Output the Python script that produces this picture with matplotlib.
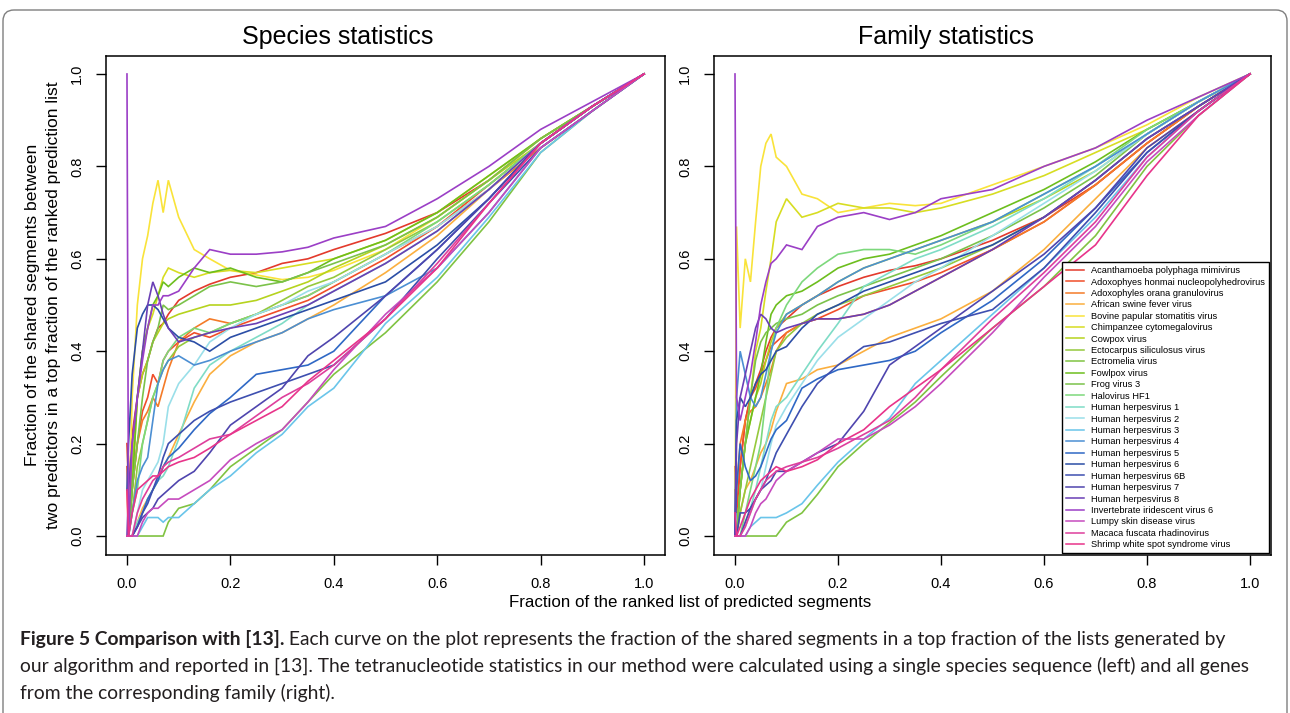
import matplotlib
matplotlib.use("Agg")
import matplotlib.pyplot as plt
from matplotlib.patches import FancyBboxPatch
from matplotlib.transforms import IdentityTransform
from matplotlib.lines import Line2D

plt.rcParams['font.family'] = ['Liberation Sans', 'DejaVu Sans']

# ---------------- data ----------------
X = [0, .003, .01, .02, .03, .04, .05, .06, .07, .08, .10, .13, .16, .20, .25, .30, .35, .40, .50, .60, .70, .80, .90, 1.0]

names = ["Acanthamoeba polyphaga mimivirus", "Adoxophyes honmai nucleopolyhedrovirus",
         "Adoxophyles orana granulovirus", "African swine fever virus",
         "Bovine papular stomatitis virus", "Chimpanzee cytomegalovirus", "Cowpox virus",
         "Ectocarpus siliculosus virus", "Ectromelia virus", "Fowlpox virus", "Frog virus 3",
         "Halovirus HF1", "Human herpesvirus 1", "Human herpesvirus 2", "Human herpesvirus 3",
         "Human herpesvirus 4", "Human herpesvirus 5", "Human herpesvirus 6",
         "Human herpesvirus 6B", "Human herpesvirus 7", "Human herpesvirus 8",
         "Invertebrate iridescent virus 6", "Lumpy skin disease virus",
         "Macaca fuscata rhadinovirus", "Shrimp white spot syndrome virus"]

colors = ["#E33A2C", "#F04E2A", "#F47B28", "#FBAF3F", "#F9E33A", "#D7DD22", "#B6D31E",
          "#95C93D", "#80C342", "#6DBE1E", "#7BC24A", "#7DD87C", "#7FDCC6", "#9ADFE9",
          "#6AC5EA", "#4C8FD3", "#2F68C5", "#2B4EA6", "#3E4FB0", "#4F45AE", "#6A3FB5",
          "#9B3FC6", "#C64BBE", "#DE3F9C", "#E8348A"]

# Species statistics (left)
S01 = [0.20,0.10,0.22,0.30,0.35,0.38,0.42,0.45,0.46,0.48,0.51,0.53,0.545,0.56,0.57,0.59,0.60,0.62,0.655,0.70,0.77,0.86,0.93,1.0]
S02 = [0.15,0.05,0.10,0.20,0.27,0.30,0.35,0.33,0.38,0.40,0.42,0.44,0.43,0.45,0.47,0.49,0.51,0.54,0.60,0.67,0.76,0.85,0.93,1.0]
S03 = [0.10,0.00,0.10,0.20,0.25,0.27,0.30,0.28,0.32,0.36,0.42,0.45,0.47,0.46,0.48,0.50,0.52,0.55,0.61,0.67,0.75,0.84,0.92,1.0]
S04 = [0,0,0,0.03,0.06,0.08,0.10,0.12,0.15,0.17,0.22,0.29,0.35,0.39,0.42,0.44,0.47,0.50,0.57,0.65,0.75,0.85,0.93,1.0]
S05 = [0,0,0.30,0.50,0.60,0.65,0.72,0.77,0.70,0.77,0.69,0.62,0.60,0.575,0.565,0.555,0.56,0.575,0.62,0.69,0.77,0.86,0.93,1.0]
S06 = [0,0,0.10,0.30,0.40,0.45,0.48,0.52,0.56,0.58,0.57,0.56,0.57,0.575,0.57,0.58,0.59,0.60,0.64,0.70,0.78,0.86,0.93,1.0]
S07 = [0,0,0.15,0.30,0.35,0.38,0.42,0.44,0.46,0.47,0.48,0.49,0.50,0.50,0.51,0.53,0.55,0.58,0.63,0.69,0.77,0.85,0.93,1.0]
S08 = [0,0,0.05,0.15,0.20,0.25,0.30,0.33,0.36,0.38,0.41,0.43,0.44,0.46,0.48,0.51,0.54,0.56,0.62,0.68,0.76,0.85,0.93,1.0]
S09 = [0,0,0,0,0,0,0,0,0,0.03,0.06,0.07,0.10,0.15,0.19,0.23,0.29,0.35,0.44,0.55,0.68,0.83,0.92,1.0]
S10 = [0,0,0.10,0.30,0.40,0.45,0.50,0.52,0.55,0.54,0.56,0.58,0.57,0.58,0.56,0.55,0.57,0.60,0.64,0.70,0.78,0.86,0.93,1.0]
S11 = [0,0,0.10,0.20,0.30,0.38,0.42,0.45,0.50,0.49,0.50,0.52,0.54,0.55,0.54,0.55,0.57,0.59,0.63,0.69,0.77,0.86,0.93,1.0]
S12 = [0,0,0.05,0.10,0.20,0.25,0.30,0.33,0.38,0.40,0.43,0.45,0.44,0.46,0.48,0.50,0.52,0.55,0.61,0.68,0.76,0.85,0.93,1.0]
S13 = [0,0,0,0.03,0.05,0.08,0.10,0.12,0.13,0.15,0.21,0.32,0.37,0.40,0.43,0.46,0.50,0.53,0.59,0.66,0.75,0.85,0.93,1.0]
S14 = [0,0,0,0.05,0.10,0.12,0.14,0.16,0.20,0.28,0.33,0.37,0.42,0.45,0.48,0.50,0.53,0.55,0.61,0.67,0.75,0.85,0.93,1.0]
S15 = [0,0,0,0,0.02,0.04,0.04,0.04,0.03,0.04,0.04,0.07,0.10,0.13,0.18,0.22,0.28,0.32,0.46,0.56,0.69,0.83,0.92,1.0]
S16 = [0,0,0.05,0.12,0.15,0.17,0.25,0.33,0.36,0.38,0.39,0.37,0.38,0.40,0.42,0.44,0.47,0.49,0.52,0.58,0.70,0.84,0.92,1.0]
S17 = [0,0,0,0.02,0.05,0.08,0.10,0.12,0.15,0.17,0.19,0.23,0.265,0.30,0.35,0.36,0.37,0.40,0.52,0.62,0.73,0.85,0.93,1.0]
S18 = [0.10,0.20,0.35,0.45,0.48,0.50,0.50,0.49,0.47,0.45,0.43,0.42,0.40,0.43,0.45,0.47,0.49,0.51,0.55,0.63,0.73,0.85,0.93,1.0]
S19 = [0,0,0,0.02,0.05,0.07,0.10,0.13,0.17,0.20,0.22,0.25,0.27,0.29,0.31,0.33,0.35,0.37,0.47,0.60,0.72,0.84,0.92,1.0]
S20 = [0,0,0,0.02,0.04,0.05,0.06,0.08,0.09,0.10,0.12,0.14,0.18,0.24,0.28,0.32,0.39,0.43,0.52,0.62,0.73,0.85,0.93,1.0]
S21 = [0,0.10,0.20,0.30,0.40,0.50,0.55,0.52,0.48,0.45,0.42,0.43,0.44,0.45,0.46,0.48,0.50,0.53,0.59,0.66,0.75,0.85,0.93,1.0]
S22 = [1.0,0.0,0.20,0.30,0.38,0.45,0.50,0.50,0.52,0.52,0.53,0.58,0.62,0.61,0.61,0.615,0.625,0.645,0.67,0.73,0.80,0.88,0.94,1.0]
S23 = [0,0,0,0,0.03,0.05,0.06,0.06,0.07,0.08,0.08,0.10,0.12,0.165,0.20,0.23,0.29,0.36,0.48,0.58,0.70,0.84,0.92,1.0]
S24 = [0,0,0,0.05,0.08,0.10,0.12,0.13,0.15,0.16,0.17,0.19,0.21,0.22,0.26,0.30,0.33,0.37,0.47,0.59,0.72,0.85,0.93,1.0]
S25 = [0.10,0,0.05,0.10,0.11,0.12,0.13,0.13,0.14,0.15,0.16,0.17,0.19,0.22,0.25,0.28,0.335,0.38,0.47,0.58,0.72,0.85,0.93,1.0]

# Family statistics (right)
F01 = [0.15,0.05,0.15,0.25,0.30,0.33,0.36,0.40,0.43,0.45,0.47,0.50,0.52,0.54,0.56,0.575,0.585,0.60,0.64,0.69,0.76,0.85,0.93,1.0]
F02 = [0.10,0.05,0.15,0.25,0.30,0.32,0.35,0.38,0.41,0.42,0.44,0.46,0.47,0.49,0.52,0.535,0.55,0.57,0.62,0.68,0.76,0.85,0.93,1.0]
F03 = [0.10,0.10,0.20,0.25,0.27,0.28,0.30,0.33,0.36,0.40,0.44,0.46,0.47,0.47,0.48,0.50,0.53,0.56,0.62,0.68,0.76,0.85,0.93,1.0]
F04 = [0,0,0.05,0.10,0.12,0.15,0.18,0.20,0.23,0.27,0.33,0.34,0.36,0.37,0.40,0.43,0.45,0.47,0.53,0.62,0.73,0.84,0.92,1.0]
F05 = [0,0.67,0.45,0.60,0.55,0.68,0.80,0.85,0.87,0.82,0.80,0.74,0.73,0.70,0.71,0.72,0.715,0.72,0.76,0.80,0.84,0.89,0.95,1.0]
F06 = [0,0,0.10,0.20,0.30,0.40,0.45,0.53,0.60,0.68,0.73,0.69,0.70,0.72,0.71,0.71,0.70,0.71,0.74,0.78,0.83,0.88,0.94,1.0]
F07 = [0,0,0.10,0.20,0.25,0.30,0.33,0.38,0.42,0.45,0.48,0.50,0.52,0.55,0.58,0.60,0.62,0.64,0.68,0.73,0.79,0.87,0.94,1.0]
F08 = [0,0,0.05,0.10,0.15,0.20,0.25,0.30,0.35,0.40,0.43,0.46,0.48,0.50,0.52,0.54,0.56,0.58,0.63,0.69,0.77,0.86,0.93,1.0]
F09 = [0,0,0,0,0,0,0,0,0,0,0.03,0.05,0.09,0.15,0.20,0.245,0.29,0.345,0.45,0.54,0.65,0.80,0.91,1.0]
F10 = [0,0,0.10,0.20,0.25,0.30,0.35,0.42,0.48,0.50,0.52,0.53,0.55,0.58,0.60,0.61,0.63,0.65,0.70,0.75,0.81,0.88,0.94,1.0]
F11 = [0,0,0.10,0.20,0.30,0.38,0.42,0.44,0.45,0.46,0.47,0.48,0.50,0.52,0.54,0.56,0.58,0.60,0.65,0.71,0.78,0.87,0.94,1.0]
F12 = [0,0,0,0.05,0.10,0.15,0.20,0.30,0.40,0.45,0.50,0.55,0.58,0.61,0.62,0.62,0.61,0.63,0.68,0.74,0.80,0.88,0.94,1.0]
F13 = [0,0,0,0.03,0.06,0.10,0.15,0.20,0.25,0.28,0.30,0.35,0.40,0.46,0.54,0.57,0.60,0.62,0.67,0.73,0.80,0.87,0.94,1.0]
F14 = [0,0,0,0.02,0.05,0.08,0.10,0.15,0.20,0.24,0.28,0.33,0.38,0.43,0.47,0.51,0.55,0.58,0.65,0.72,0.79,0.87,0.94,1.0]
F15 = [0,0,0,0,0.02,0.03,0.04,0.04,0.04,0.04,0.05,0.07,0.11,0.16,0.21,0.255,0.33,0.38,0.48,0.58,0.69,0.82,0.92,1.0]
F16 = [0,0.30,0.40,0.35,0.30,0.28,0.30,0.35,0.40,0.44,0.48,0.50,0.52,0.55,0.58,0.60,0.62,0.64,0.68,0.74,0.80,0.87,0.94,1.0]
F17 = [0,0.10,0.20,0.15,0.12,0.13,0.15,0.18,0.21,0.23,0.25,0.32,0.34,0.36,0.37,0.38,0.40,0.44,0.51,0.60,0.71,0.83,0.92,1.0]
F18 = [0,0.25,0.30,0.28,0.30,0.33,0.35,0.36,0.38,0.40,0.41,0.45,0.48,0.50,0.53,0.55,0.57,0.59,0.63,0.69,0.77,0.86,0.93,1.0]
F19 = [0,0,0.05,0.05,0.06,0.08,0.10,0.12,0.15,0.18,0.22,0.28,0.33,0.37,0.41,0.42,0.44,0.46,0.49,0.58,0.70,0.83,0.92,1.0]
F20 = [0,0,0,0.03,0.06,0.08,0.10,0.11,0.12,0.14,0.14,0.16,0.18,0.20,0.27,0.37,0.41,0.45,0.53,0.61,0.71,0.84,0.92,1.0]
F21 = [0,0.20,0.30,0.35,0.40,0.45,0.48,0.47,0.45,0.44,0.45,0.46,0.47,0.47,0.48,0.50,0.53,0.56,0.62,0.69,0.77,0.86,0.93,1.0]
F22 = [1.0,0.30,0.25,0.30,0.35,0.42,0.50,0.55,0.59,0.60,0.63,0.62,0.67,0.69,0.70,0.685,0.70,0.73,0.75,0.80,0.84,0.90,0.95,1.0]
F23 = [0,0,0,0,0.02,0.05,0.07,0.08,0.10,0.12,0.14,0.16,0.18,0.21,0.21,0.24,0.28,0.33,0.44,0.56,0.67,0.81,0.91,1.0]
F24 = [0,0,0,0.02,0.05,0.08,0.10,0.12,0.13,0.14,0.15,0.16,0.17,0.19,0.22,0.25,0.30,0.36,0.47,0.57,0.68,0.82,0.92,1.0]
F25 = [0.05,0,0.02,0.05,0.08,0.10,0.12,0.13,0.14,0.15,0.14,0.15,0.165,0.20,0.23,0.28,0.32,0.36,0.45,0.54,0.63,0.78,0.91,1.0]

species = [S01,S02,S03,S04,S05,S06,S07,S08,S09,S10,S11,S12,S13,S14,S15,S16,S17,S18,S19,S20,S21,S22,S23,S24,S25]
family = [F01,F02,F03,F04,F05,F06,F07,F08,F09,F10,F11,F12,F13,F14,F15,F16,F17,F18,F19,F20,F21,F22,F23,F24,F25]

ticks = [0.0, 0.2, 0.4, 0.6, 0.8, 1.0]
tick_labels = ["0.0", "0.2", "0.4", "0.6", "0.8", "1.0"]

# ---------------- figure ----------------
W, H = 1290, 713
fig = plt.figure(figsize=(W / 100, H / 100), dpi=100)
fig.patch.set_facecolor("white")

def fx(px):
    return px / W

def fy(py):
    return 1 - py / H

ax_bottom = 554.5
ax_h = 499.0
axL = fig.add_axes([fx(106.3), fy(ax_bottom), 558.4 / W, ax_h / H])
axR = fig.add_axes([fx(714.4), fy(ax_bottom), 556.2 / W, ax_h / H])

for ax, data in ((axL, species), (axR, family)):
    for y, c in zip(data, colors):
        ax.plot(X, y, color=c, lw=1.2, solid_joinstyle="miter")
    ax.set_xlim(-0.04, 1.04)
    ax.set_ylim(-0.04, 1.04)
    ax.set_xticks(ticks)
    ax.set_xticklabels(tick_labels)
    ax.set_yticks(ticks)
    ax.set_yticklabels(tick_labels, rotation=90, va="center")
    ax.tick_params(direction="out", length=7.5, width=1.0, labelsize=10.5, pad=8.5, color="black")
    for s in ax.spines.values():
        s.set_linewidth(1.1)
        s.set_color("black")

handles = [Line2D([0], [0], color=c, lw=1.1) for c in colors]
leg = axR.legend(handles, names, loc="lower right", fontsize=6.7, frameon=True, fancybox=False,
                 edgecolor="black", framealpha=1, borderaxespad=0.12, labelspacing=0.26,
                 handlelength=2.0, handletextpad=0.75, borderpad=0.45)
leg.get_frame().set_linewidth(1.0)

fig.text(fx(338), fy(37), "Species statistics", ha="center", va="center", fontsize=18)
fig.text(fx(946), fy(37), "Family statistics", ha="center", va="center", fontsize=18)
fig.text(fx(690), fy(603), "Fraction of the ranked list of predicted segments",
         ha="center", va="center", fontsize=12.2)
fig.text(fx(33), fy(305), "Fraction of the shared segments between", rotation=90,
         ha="center", va="center", fontsize=12.6)
fig.text(fx(54), fy(305), "two predictors in a top fraction of the ranked prediction list",
         rotation=90, ha="center", va="center", fontsize=12.6)

# outer rounded frame
frame = FancyBboxPatch((3, -40), 1284, H - 10 + 40, boxstyle="round,pad=0,rounding_size=11",
                       transform=IdentityTransform(), fill=False, edgecolor="#7f7f7f", lw=1.0)
fig.patches.append(frame)

# caption
cap_font = ["Lato", "DejaVu Sans"]
cap_col = "#231F20"
bold_txt = "Figure 5 Comparison with [13]."
line1 = " Each curve on the plot represents the fraction of the shared segments in a top fraction of the lists generated by"
line2 = "our algorithm and reported in [13]. The tetranucleotide statistics in our method were calculated using a single species sequence (left) and all genes"
line3 = "from the corresponding family (right)."

renderer = fig.canvas.get_renderer()

def width_of(txt, size, weight):
    t = fig.text(0, 0, txt, fontsize=size, family=cap_font, weight=weight)
    w = t.get_window_extent(renderer).width
    t.remove()
    return w

base = 12.0
w_total1 = width_of(bold_txt, base, "bold") + width_of(line1, base, "normal")
w_total2 = width_of(line2, base, "normal")
cap_size = min(base * 1230.0 / w_total1, base * 1232.0 / w_total2)
wb = width_of(bold_txt, cap_size, "bold")
x0 = 20
fig.text(fx(x0), fy(645), bold_txt, fontsize=cap_size, family=cap_font, weight="bold",
         color=cap_col, va="baseline", ha="left")
fig.text(fx(x0 + wb), fy(645), line1, fontsize=cap_size, family=cap_font, color=cap_col,
         va="baseline", ha="left")
fig.text(fx(x0), fy(672), line2, fontsize=cap_size, family=cap_font, color=cap_col,
         va="baseline", ha="left")
fig.text(fx(x0), fy(699), line3, fontsize=cap_size, family=cap_font, color=cap_col,
         va="baseline", ha="left")

fig.savefig("out.png", dpi=100)
